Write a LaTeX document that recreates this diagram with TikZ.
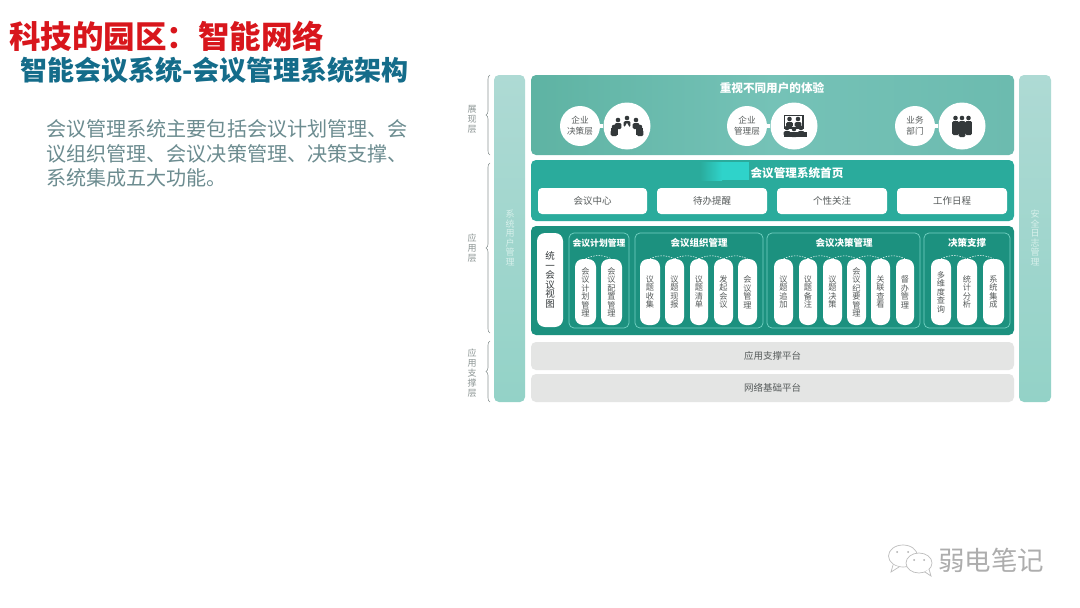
\documentclass[tikz,border=0pt]{standalone}
\usepackage{fontspec}
\setmainfont{Noto Sans CJK SC}
\usetikzlibrary{decorations.pathreplacing,shapes.geometric}
\definecolor{hometeal}{HTML}{2AAB9C}
\definecolor{mainteal}{HTML}{1C917F}
\definecolor{edgeteal}{HTML}{74D2C3}
\definecolor{graybar}{HTML}{E4E5E4}
\definecolor{txtgray}{HTML}{555A5A}
\definecolor{lblgray}{HTML}{8C9594}
\definecolor{titlered}{HTML}{D8161C}
\definecolor{titleblue}{HTML}{146C8A}
\definecolor{paratxt}{HTML}{6C8C90}
\definecolor{iconink}{HTML}{33383A}
\definecolor{wmgray}{HTML}{ADADAD}
\definecolor{patch}{HTML}{2FD3CA}
\tikzset{
  rbox/.style={rectangle,inner sep=0pt,align=center},
  toppanel/.style={rbox,rounded corners=5pt,left color=TopL,right color=TopR,middle color=TopM},
  homepanel/.style={rbox,rounded corners=5pt,fill=hometeal},
  mainpanel/.style={rbox,rounded corners=5pt,fill=mainteal},
  graypanel/.style={rbox,rounded corners=5pt,fill=graybar,text=txtgray,font=\fontsize{9.5}{11}\selectfont},
  sidebar/.style={rbox,rounded corners=5pt,top color=BarT,bottom color=BarB},
  card/.style={rbox,rounded corners=4pt,fill=white,text=txtgray,font=\fontsize{9.5}{11}\selectfont},
  pill/.style={rbox,rounded corners=8pt,fill=white,text=txtgray,font=\fontsize{8.2}{8.5}\selectfont},
  bigpill/.style={pill,font=\fontsize{9.5}{9.5}\selectfont,text=iconink},
  group/.style={rbox,rounded corners=5pt,draw=edgeteal,line width=.7pt},
  grouphead/.style={text=white,inner sep=0pt,font=\bfseries\fontsize{9.5}{11}\selectfont},
  paneltitle/.style={text=white,inner sep=0pt,font=\bfseries\fontsize{11.6}{13}\selectfont},
  barlabel/.style={text=BarText,inner sep=0pt,align=center,font=\fontsize{9}{9.5}\selectfont},
  layerlabel/.style={text=lblgray,inner sep=0pt,align=center,font=\fontsize{9}{10}\selectfont},
  layerbrace/.style={draw=lblgray,line width=.6pt,decorate,decoration={brace,amplitude=4pt}},
  smallc/.style={circle,fill=white,minimum size=40pt,inner sep=0pt,align=center,text=txtgray,font=\fontsize{8.6}{11}\selectfont},
  largec/.style={circle,fill=white,minimum size=47pt,inner sep=0pt},
  neck/.style={draw=white,line width=4pt},
  link/.style={draw=white,line width=.5pt,dash pattern=on 1.5pt off 1.2pt},
  ink/.style={fill=iconink,draw=none},
  bubble/.style={draw=wmgray!80,fill=white,line width=.7pt},
}
\definecolor{TopL}{HTML}{5EB3A3}
\definecolor{TopM}{HTML}{75C2B7}
\definecolor{TopR}{HTML}{6CBBAF}
\definecolor{BarT}{HTML}{AEDAD4}
\definecolor{BarB}{HTML}{93D2C7}
\definecolor{BarText}{HTML}{D7F0EB}
% \rb[style]{name}{x1}{y1}{x2}{y2}{text}
\newcommand\rb[7][]{\node[#1,minimum width={(#5-#3)*1pt},minimum height={(#6-#4)*1pt}] (#2) at ({(#3+#5)/2},{(#4+#6)/2}) {#7};}
\newcommand\ppl[3]{\fill[ink] (#1,#2) circle (2.3);\fill[ink,rounded corners=1.4pt] ({#1-3.4},{#2+3}) rectangle ({#1+3.4},{#2+#3});}
\begin{document}
\begin{tikzpicture}[x=1pt,y=-1pt]
\useasboundingbox (0,0) rectangle (1080,608);
\fill[white] (0,0) rectangle (1080,608);

% headings
\node[anchor=west,inner sep=0pt,text=titlered,font=\bfseries\fontsize{31.5}{34}\selectfont] (t1) at (9,36) {科技的园区：智能网络};
\node[anchor=west,inner sep=0pt,text=titleblue,font=\bfseries\fontsize{27}{30}\selectfont] (t2) at (20,70) {智能会议系统-会议管理系统架构};
\node[anchor=north west,inner sep=0pt,text=paratxt,align=left,font=\fontsize{20.1}{24.6}\selectfont] (para) at (46,119.5) {会议管理系统主要包括会议计划管理、会\\议组织管理、会议决策管理、决策支撑、\\系统集成五大功能。};

% side bars
\rb[sidebar]{barL}{494}{75}{525}{402}{}
\rb[sidebar]{barR}{1019}{75}{1051}{402}{}
\node[barlabel] (barLt) at (510,238) {系\\统\\用\\户\\管\\理};
\node[barlabel] (barRt) at (1035,238) {安\\全\\日\\志\\管\\理};

% layer labels and braces
\node[layerlabel] (l1) at (472,119) {展\\现\\层};
\node[layerlabel] (l2) at (472,248) {应\\用\\层};
\node[layerlabel] (l3) at (472,373) {应\\用\\支\\撑\\层};
\coordinate (b1a) at (490,155); \coordinate (b1b) at (490,75);
\coordinate (b2a) at (490,333); \coordinate (b2b) at (490,163);
\coordinate (b3a) at (490,402); \coordinate (b3b) at (490,341);
\draw[layerbrace] (b1a) -- (b1b);
\draw[layerbrace] (b2a) -- (b2b);
\draw[layerbrace] (b3a) -- (b3b);

% presentation panel
\rb[toppanel]{top}{531}{75}{1014}{155}{}
\node[paneltitle] (topt) at (772,88) {重视不同用户的体验};
\node[smallc] (s1) at (580,126) {企业\\决策层};
\node[largec] (c1) at (627,126) {};
\node[smallc] (s2) at (747,126) {企业\\管理层};
\node[largec] (c2) at (794,126) {};
\node[smallc] (s3) at (915,126) {业务\\部门};
\node[largec] (c3) at (962,126) {};
\draw[neck] (s1) -- (c1);
\draw[neck] (s2) -- (c2);
\draw[neck] (s3) -- (c3);

% icon 1: people round a table
\ppl{618}{120}{9}\ppl{627}{118}{9}\ppl{636}{120}{9}
\ppl{614}{127}{9}\ppl{640}{127}{9}
\fill[ink] (611,128) rectangle (618,135);
\fill[ink] (636,128) rectangle (643,135);
\fill[white] (627,123) -- (634,135) -- (620,135) -- cycle;
% icon 2: screen and audience
\draw[iconink,line width=1.1pt] (784.5,115.5) rectangle (803,128);
\ppl{789.5}{119}{8}\ppl{798}{119}{8}
\ppl{787}{128}{8}\ppl{794}{129}{8}\ppl{801}{128}{8}
\fill[ink] (784,132) rectangle (807,137);
% icon 3: three people
\ppl{955.5}{118}{17}\ppl{968.5}{118}{17}
\fill[white] (959,119) rectangle (965,137);
\ppl{962}{118}{19}

% home panel
\rb[homepanel]{home}{531}{160}{1014}{221}{}
\shade[left color=hometeal,right color=patch,draw=none] (700,162) rectangle (722,180);
\fill[patch] (722,162) rectangle (749,180);
\node[paneltitle] (homet) at (797,173) {会议管理系统首页};
\rb[card]{c1c}{538}{188}{647}{214}{会议中心}
\rb[card]{c2c}{657}{188}{767}{214}{待办提醒}
\rb[card]{c3c}{777}{188}{887}{214}{个性关注}
\rb[card]{c4c}{897}{188}{1007}{214}{工作日程}

% main panel
\rb[mainpanel]{main}{531}{226}{1014}{335}{}
\rb[bigpill]{view}{537}{233}{563}{327}{统\\一\\会\\议\\视\\图}

\rb[group]{g1}{569}{233}{629}{328}{}
\rb[group]{g2}{635}{233}{763}{328}{}
\rb[group]{g3}{767}{233}{920}{328}{}
\rb[group]{g4}{924}{233}{1010}{328}{}
\node[grouphead,font=\bfseries\fontsize{8.8}{11}\selectfont] (g1t) at (599,243) {会议计划管理};
\node[grouphead] (g2t) at (699,243) {会议组织管理};
\node[grouphead] (g3t) at (844,243) {会议决策管理};
\node[grouphead] (g4t) at (967,243) {决策支撑};

\rb[pill]{p11}{575}{259}{596}{325}{会\\议\\计\\划\\管\\理}
\rb[pill]{p12}{601}{259}{622}{325}{会\\议\\配\\置\\管\\理}

\rb[pill]{p21}{640}{259}{660}{325}{议\\题\\收\\集}
\rb[pill]{p22}{665}{259}{684}{325}{议\\题\\现\\报}
\rb[pill]{p23}{690}{259}{708}{325}{议\\题\\清\\单}
\rb[pill]{p24}{714}{259}{733}{325}{发\\起\\会\\议}
\rb[pill]{p25}{738}{259}{757}{325}{会\\议\\管\\理}

\rb[pill]{p31}{774}{259}{793}{325}{议\\题\\追\\加}
\rb[pill]{p32}{799}{259}{817}{325}{议\\题\\备\\注}
\rb[pill]{p33}{823}{259}{842}{325}{议\\题\\决\\策}
\rb[pill]{p34}{847}{259}{866}{325}{会\\议\\纪\\要\\管\\理}
\rb[pill]{p35}{871}{259}{890}{325}{关\\联\\查\\看}
\rb[pill]{p36}{896}{259}{914}{325}{督\\办\\管\\理}

\rb[pill]{p41}{931}{259}{951}{325}{多\\维\\度\\查\\询}
\rb[pill]{p42}{957}{259}{977}{325}{统\\计\\分\\析}
\rb[pill]{p43}{983}{259}{1004}{325}{系\\统\\集\\成}

\foreach \a/\b in {p11/p12,p21/p22,p22/p23,p23/p24,p24/p25,p31/p32,p32/p33,p33/p34,p34/p35,p35/p36,p41/p42,p42/p43}
  \draw[link] (\a.north) to[bend left=25] (\b.north);

% support layers
\rb[graypanel]{sup1}{531}{342}{1014}{370}{应用支撑平台}
\rb[graypanel]{sup2}{531}{374}{1014}{402}{网络基础平台}

% watermark
\draw[bubble] (903,556) ellipse (14.5 and 11);
\draw[bubble] (893,565) -- (891,572) -- (899,567);
\draw[bubble] (919,563) ellipse (13 and 10);
\draw[bubble] (925,572) -- (931,576) -- (929,569);
\fill[wmgray] (897,552) circle (1) (908,552) circle (1) (914,560) circle (1) (924,560) circle (1);
\node[anchor=west,inner sep=0pt,text=wmgray,font=\fontsize{26.5}{28}\selectfont] (wm) at (938,560) {弱电笔记};
\end{tikzpicture}
\end{document}
